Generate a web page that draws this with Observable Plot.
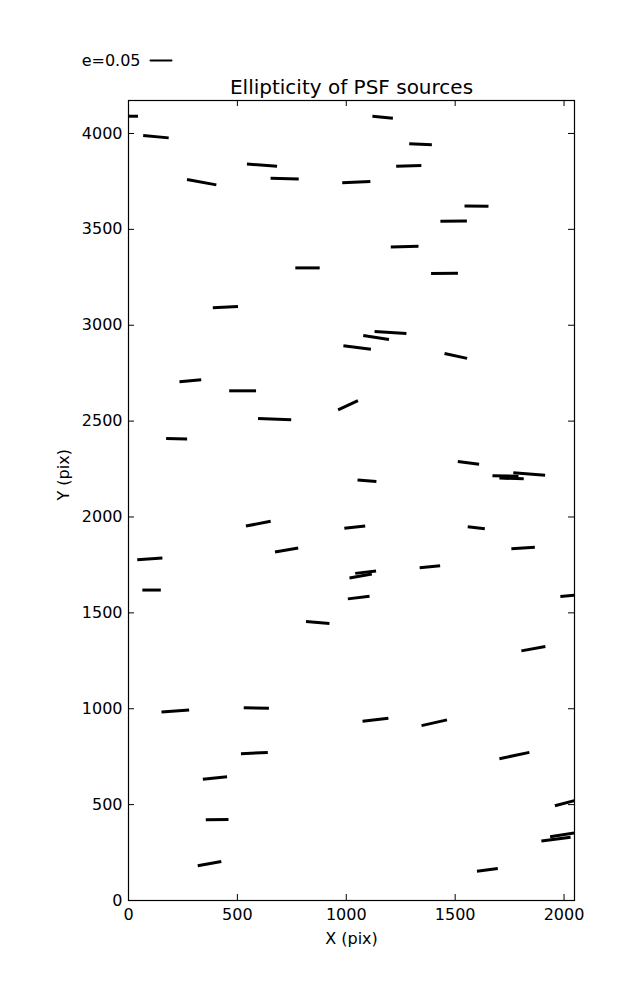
<!DOCTYPE html>
<html><head><meta charset="utf-8">
<script src="https://cdn.jsdelivr.net/npm/d3@7"></script>
<script src="https://cdn.jsdelivr.net/npm/@observablehq/plot@0.6"></script>
<style>body{margin:0;background:#fff;} #chart{width:637px;height:1000px;}</style>
</head><body><div id="chart"></div>
<script>
// PSF source positions (pix), ellipticity e and orientation angle (deg, CCW from +X)
const xs = [3, 126, 336, 613, 717, 1046, 822, 445, 1050, 1167,
  1341, 1287, 1598, 1493, 1268, 1451, 1203, 1137, 1503, 284,
  524, 671, 1008, 221, 596, 726, 98, 106, 869, 1039,
  1066, 1089, 1057, 1561, 1095, 1731, 1759, 1840, 1597, 1812,
  1384, 2033, 215, 587, 578, 397, 407, 372, 1859, 1134,
  1404, 1772, 2014, 1963, 1995, 1648];
const ys = [4090, 3983, 3746, 3835, 3765, 3746, 3299, 3094, 2884, 4085,
  3944, 3831, 3621, 3543, 3410, 3270, 2962, 2936, 2840, 2710,
  2658, 2510, 2583, 2408, 1965, 1828, 1782, 1619, 1450, 1947,
  1692, 1712, 1580, 2282, 2189, 2214, 2201, 2224, 1944, 1838,
  1740, 1591, 988, 1004, 769, 639, 422, 192, 1313, 943,
  927, 756, 511, 320, 343, 160];
const es = [0.042, 0.061, 0.071, 0.072, 0.067, 0.067, 0.058, 0.060, 0.066, 0.049,
  0.054, 0.060, 0.057, 0.063, 0.066, 0.064, 0.076, 0.062, 0.055, 0.052,
  0.064, 0.079, 0.052, 0.050, 0.060, 0.056, 0.060, 0.044, 0.056, 0.050,
  0.054, 0.050, 0.052, 0.051, 0.045, 0.062, 0.058, 0.076, 0.041, 0.056,
  0.049, 0.052, 0.066, 0.060, 0.064, 0.058, 0.054, 0.057, 0.058, 0.062,
  0.062, 0.073, 0.060, 0.070, 0.062, 0.050];
const thetas = [0, -5.1, -10.3, -4.4, -1.4, 2.7, 0, 2.9, -6.9, -5.6,
  -2.5, 1.6, -0.7, 0.7, 1.2, 0.6, -3.6, -8.8, -12.4, 5.3,
  0, -2.3, 24.9, -0.8, 10.8, 9.9, 3.8, 0, -4.8, 6.3,
  10.1, 6.3, 7.1, -7.0, -3.9, -1.3, -1.7, -4.7, -6.7, 3.4,
  5.6, 5.2, 4.1, -1.4, 2.8, 6.1, 0.8, 10.3, 10.2, 6.7,
  12.7, 11.9, 14.8, 7.2, 9.4, 7.3];

const xTicks = [0, 500, 1000, 1500, 2000];
const yTicks = [0, 500, 1000, 1500, 2000, 2500, 3000, 3500, 4000];
const legendE = [0.05];
const titleText = "Ellipticity of PSF sources";
const xLabel = "X (pix)";
const yLabel = "Y (pix)";

const data = xs.map((x, i) => ({x, y: ys[i], e: es[i], theta: thetas[i]}));

const stick = {draw(context, l) { context.moveTo(0, 0); context.lineTo(0, -l); }};

const W = 637, H = 1000, mL = 128, mR = 63, mT = 100, mB = 100;
const fw = W - mL - mR, fh = H - mT - mB, tick = 6;

const chart = Plot.plot({
  width: W, height: H,
  marginLeft: mL, marginRight: mR, marginTop: mT, marginBottom: mB,
  style: {fontFamily: "DejaVu Sans", fontSize: "16px", color: "black", background: "white", overflow: "visible"},
  x: {domain: [0, 2048]},
  y: {domain: [0, 4172]},
  length: {domain: [0, 0.05], range: [0, 21]},
  marks: [
    Plot.vector(data, {x: "x", y: "y", length: "e", rotate: d => 90 - d.theta,
      anchor: "middle", shape: stick, stroke: "black", strokeWidth: 3, strokeLinecap: "butt", clip: true}),
    Plot.frame({stroke: "black", strokeWidth: 1.2}),
    Plot.tickX(xTicks, {x: d => d, insetTop: fh - tick, stroke: "black"}),
    Plot.tickX(xTicks, {x: d => d, insetBottom: fh - tick, stroke: "black"}),
    Plot.tickY(yTicks, {y: d => d, insetRight: fw - tick, stroke: "black"}),
    Plot.tickY(yTicks, {y: d => d, insetLeft: fw - tick, stroke: "black"}),
    Plot.axisX({ticks: xTicks, tickSize: 0, tickPadding: 8, tickFormat: d => `${d}`, label: null, fontSize: 16}),
    Plot.axisY({ticks: yTicks, tickSize: 0, tickPadding: 6, tickFormat: d => `${d}`, label: null, fontSize: 16}),
    Plot.text([xLabel], {text: d => d, frameAnchor: "bottom", dy: 38, lineAnchor: "middle", fontSize: 16, fill: "black"}),
    Plot.text([yLabel], {text: d => d, frameAnchor: "left", dx: -65, rotate: -90, lineAnchor: "middle", fontSize: 16, fill: "black"}),
    Plot.text([titleText], {text: d => d, frameAnchor: "top", dy: -13, lineAnchor: "middle", fontSize: 20, fill: "black"}),
    Plot.text(legendE, {text: d => `e=${d}`, frameAnchor: "top-left", dx: 12, dy: -40, textAnchor: "end", lineAnchor: "middle", fontSize: 16, fill: "black"}),
    Plot.vector(legendE, {length: d => d, rotate: 90, anchor: "middle", shape: stick, frameAnchor: "top-left", dx: 32.5, dy: -40, stroke: "black", strokeWidth: 2})
  ]
});
document.getElementById("chart").appendChild(chart);
</script>
</body></html>
